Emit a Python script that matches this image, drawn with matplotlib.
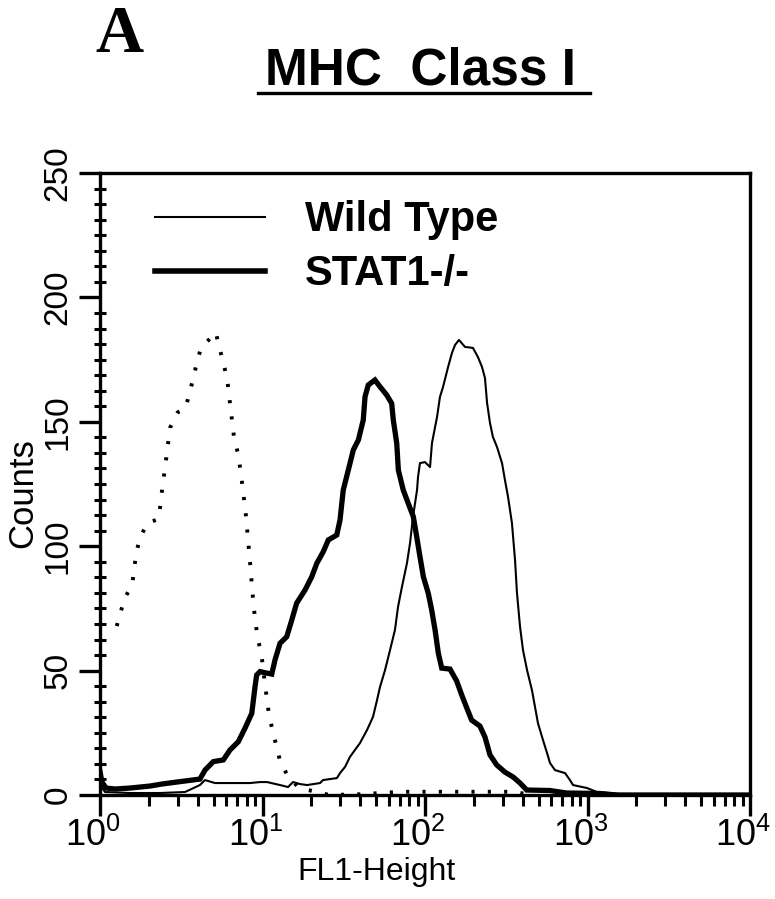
import numpy as np
import matplotlib
matplotlib.use("Agg")
import matplotlib.pyplot as plt
from matplotlib.lines import Line2D
from matplotlib.ticker import FixedLocator, NullFormatter
import matplotlib.transforms as mtrans

# ---------------- data ----------------
# log10(FL1-Height) positions and counts
wt_log = [0.000, 0.031, 0.185, 0.369, 0.523, 0.615, 0.646, 0.708, 0.800, 0.923, 0.985,
          1.028, 1.108, 1.157, 1.188, 1.231, 1.274, 1.354, 1.372, 1.458, 1.477, 1.508,
          1.538, 1.569, 1.600, 1.643, 1.680, 1.705, 1.723, 1.754, 1.785, 1.815, 1.834,
          1.858, 1.889, 1.908, 1.926, 1.951, 1.957, 1.969, 2.000, 2.031, 2.043, 2.074,
          2.092, 2.111, 2.142, 2.166, 2.185, 2.209, 2.246, 2.295, 2.326, 2.351, 2.369,
          2.382, 2.400, 2.418, 2.443, 2.474, 2.492, 2.511, 2.535, 2.554, 2.566, 2.585,
          2.603, 2.628, 2.658, 2.677, 2.695, 2.726, 2.751, 2.769, 2.800, 2.862, 2.892,
          2.911, 2.997, 3.058, 3.200, 4.000]
wt_counts = [4.0, 1.2, 0.8, 0.8, 1.2, 4.0, 6.0, 4.8, 4.8, 4.8, 5.2,
             5.2, 4.0, 3.2, 5.2, 4.4, 4.0, 4.8, 6.0, 6.8, 8.8, 11.3,
             15.3, 18.1, 20.9, 26.1, 31.4, 38.2, 43.4, 50.2, 58.3, 66.3, 75.6,
             83.6, 93.2, 101.3, 111.7, 122.6, 127.8, 133.4, 133.8, 131.8, 141.5, 151.9,
             160.0, 164.0, 172.0, 177.7, 180.9, 182.9, 180.1, 179.7, 176.0, 172.0, 167.6,
             157.6, 149.5, 143.9, 139.9, 133.4, 126.6, 119.8, 109.3, 94.5, 81.2, 67.5,
             58.3, 50.2, 42.2, 35.4, 28.9, 22.1, 16.9, 12.9, 10.0, 8.8, 6.0,
             4.0, 2.8, 1.2, 0.4, 0.0]

ko_log = [0.000, 0.012, 0.037, 0.092, 0.185, 0.308, 0.380, 0.472, 0.615, 0.646, 0.697,
          0.759, 0.800, 0.851, 0.892, 0.934, 0.954, 0.964, 0.985, 1.026, 1.057, 1.077,
          1.108, 1.149, 1.180, 1.210, 1.262, 1.303, 1.334, 1.374, 1.405, 1.457, 1.477,
          1.497, 1.528, 1.559, 1.590, 1.620, 1.631, 1.651, 1.692, 1.723, 1.764, 1.795,
          1.805, 1.826, 1.836, 1.866, 1.897, 1.928, 1.949, 1.969, 1.990, 2.020, 2.041,
          2.062, 2.082, 2.103, 2.154, 2.195, 2.226, 2.257, 2.287, 2.338, 2.369, 2.400,
          2.441, 2.492, 2.543, 2.585, 2.626, 2.769, 2.872, 3.077, 3.180, 4.000]
ko_counts = [9.4, 5.2, 2.8, 2.4, 2.8, 3.6, 4.4, 5.2, 6.4, 10.0, 13.4,
             14.1, 18.1, 21.4, 26.8, 32.8, 43.5, 48.2, 49.6, 49.0, 48.6, 54.3,
             61.0, 63.6, 70.3, 77.1, 82.4, 87.7, 93.1, 97.8, 102.5, 104.5, 110.5,
             122.6, 130.6, 138.7, 142.7, 150.7, 160.1, 164.8, 166.8, 164.1, 160.8, 157.4,
             150.7, 141.4, 130.6, 122.6, 117.2, 111.9, 103.8, 95.8, 87.7, 81.1, 74.4,
             66.3, 57.0, 51.0, 50.6, 45.8, 40.2, 35.0, 30.1, 27.7, 23.3, 16.1,
             12.1, 9.2, 7.2, 4.8, 2.0, 1.8, 0.8, 0.6, 0.0, 0.0]

iso_log = [0.103, 0.150, 0.199, 0.223, 0.246, 0.291, 0.361, 0.383, 0.408, 0.431, 0.478,
           0.527, 0.550, 0.574, 0.595, 0.622, 0.666, 0.712, 0.759, 0.782, 0.804, 0.826,
           0.851, 0.876, 0.898, 0.923, 0.946, 0.970, 0.993, 1.015, 1.040, 1.063, 1.108,
           1.157, 1.227, 1.317, 1.411, 1.600, 1.850, 2.550, 2.650]
iso_counts = [67.9, 78.8, 84.8, 97.3, 103.3, 109.3, 110.9, 123.1, 135.5, 147.6, 153.8,
              155.4, 161.5, 167.4, 173.6, 179.8, 182.7, 186.0, 173.6, 167.5, 155.2, 143.0,
              136.9, 124.6, 112.3, 93.8, 75.4, 63.0, 56.8, 44.6, 32.2, 25.7, 13.7,
              7.4, 2.7, 1.5, 0.0, 0.3, 1.3, 1.3, 0.0]

legend_labels = ["Wild Type", "STAT1-/-"]
y_major = [0, 50, 100, 150, 200, 250]
x_major = [1, 10, 100, 1000, 10000]
x_labels = [r"$10^{0}$", r"$10^{1}$", r"$10^{2}$", r"$10^{3}$", r"$10^{4}$"]

# ---------------- figure ----------------
sans = ["Liberation Sans", "DejaVu Sans"]
plt.rcParams["mathtext.fontset"] = "custom"
plt.rcParams["mathtext.rm"] = "Liberation Sans"
plt.rcParams["mathtext.it"] = "Liberation Sans"

fig = plt.figure(figsize=(7.75, 8.99), dpi=100)
ax = fig.add_axes([100 / 775, 104 / 899, 650 / 775, 622 / 899])

wt_x = np.power(10.0, wt_log)
ko_x = np.power(10.0, ko_log)
iso_x = np.power(10.0, iso_log)

ax.plot(iso_x, iso_counts, color="black", lw=2.8, linestyle=(0, (0.8, 3.4)),
        dash_capstyle="butt")
ax.plot(wt_x, wt_counts, color="black", lw=1.5)
ax.plot(ko_x, ko_counts, color="black", lw=3.8, solid_joinstyle="miter")

ax.set_xscale("log")
ax.set_xlim(1, 10000)
ax.set_ylim(0, 250)

for s in ax.spines.values():
    s.set_linewidth(2.4)
    s.set_color("black")

ax.xaxis.set_major_locator(FixedLocator(x_major))
ax.set_xticklabels(x_labels)
minor_x = [m * 10 ** d for d in range(4) for m in range(2, 10)]
ax.xaxis.set_minor_locator(FixedLocator(minor_x))
ax.xaxis.set_minor_formatter(NullFormatter())
ax.yaxis.set_major_locator(FixedLocator(y_major))
ax.yaxis.set_minor_locator(FixedLocator(list(np.arange(0, 250.01, 6.25))))

ax.tick_params(axis="x", which="major", direction="out", length=15, width=2.4, pad=1,
               labelsize=26)
ax.tick_params(axis="x", which="minor", direction="out", length=8, width=2.2)
ax.tick_params(axis="y", which="major", direction="out", length=15, width=2.4, pad=4,
               labelsize=24, labelrotation=90)
ax.tick_params(axis="y", which="minor", direction="inout", length=8, width=2.2)

for lab in ax.get_yticklabels():
    lab.set_family(sans)
    lab.set_va("center")
for lab in ax.get_xticklabels():
    lab.set_transform(lab.get_transform() +
                      mtrans.ScaledTranslation(-7 / 100, 0, fig.dpi_scale_trans))

ax.set_xlabel("FL1-Height", family=sans, fontsize=23)
ax.xaxis.set_label_coords(0.425, -0.100)
ax.set_ylabel("Counts", family=sans, fontsize=25)
ax.yaxis.set_label_coords(-0.094, 0.486)

handles = [Line2D([0], [0], color="black", lw=1.5),
           Line2D([0], [0], color="black", lw=4.0)]
leg = ax.legend(handles, legend_labels, loc="upper left", bbox_to_anchor=(0.085, 0.956),
                frameon=False, handlelength=2.64, handletextpad=0.96, labelspacing=0.33,
                borderpad=0, borderaxespad=0,
                prop={"family": sans, "weight": "bold", "size": 30})

fig.text(119 / 775, 1 - 35 / 899, "A", family=["Liberation Serif", "DejaVu Serif"],
         weight="bold", fontsize=48, ha="center", va="center")
fig.text(420 / 775, 1 - 71 / 899, "MHC  Class I", family=sans, weight="bold",
         fontsize=37, ha="center", va="center")
fig.add_artist(Line2D([258 / 775, 590 / 775], [1 - 93 / 899, 1 - 93 / 899],
                      color="black", lw=2.4, transform=fig.transFigure))

fig.savefig("out.png", dpi=100)
